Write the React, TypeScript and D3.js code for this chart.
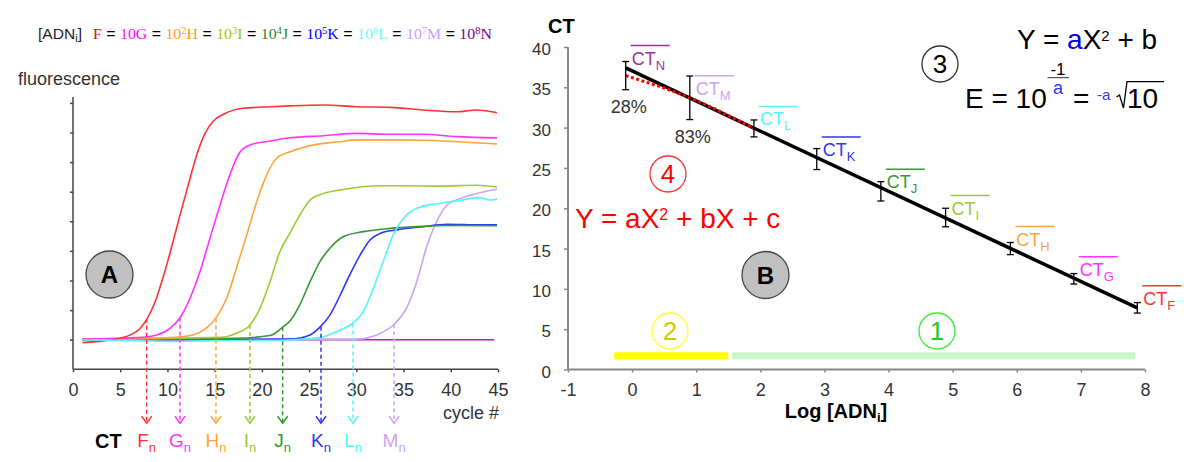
import React, { useRef, useEffect } from 'react';
import * as d3 from 'd3';

const SANS = '"Liberation Sans", Arial, sans-serif';
const SERIF = '"Liberation Serif", "Times New Roman", serif';

// series F..N, F is the most concentrated
const seriesIds = ['F', 'G', 'H', 'I', 'J', 'K', 'L', 'M', 'N'];
const seriesColors = ['#ff3333', '#ff33ff', '#ffa33a', '#99cc33', '#339933', '#3333ff', '#55f5f5', '#cca3f5', '#993399'];
const headerColors = ['#ff0000', '#ff00ff', '#ff9922', '#99cc00', '#1f8a1f', '#0000ff', '#66ffff', '#cc99ff', '#800080'];

// amplification curves [cycle, fluorescence]
const curveF = [[1, 0.9], [3.2, 0.96], [5, 1.05], [6.2, 1.18], [7.1, 1.38], [7.87, 1.72], [8.7, 2.28], [9.56, 3.13], [10.45, 4.14], [11.33, 5.21], [12.2, 6.22], [13.1, 7.24], [13.98, 7.97], [14.86, 8.39], [15.9, 8.61], [18, 8.82], [20.9, 8.87], [23, 8.9], [26.5, 8.93], [30, 8.87], [33.6, 8.85], [37.1, 8.76], [40.6, 8.7], [42.7, 8.76], [44.9, 8.67]];
const curveG = [[1, 1.02], [6.74, 1.07], [8.86, 1.16], [10.27, 1.38], [11.33, 1.74], [12.39, 2.4], [13.45, 3.3], [14.5, 4.43], [15.57, 5.55], [16.6, 6.56], [17.7, 7.35], [18.74, 7.58], [20.86, 7.71], [23, 7.82], [26.5, 7.89], [30, 7.97], [33.6, 7.94], [37.1, 7.94], [40.6, 7.86], [44.9, 7.82]];
const curveH = [[1, 1.02], [10.27, 1.07], [12.39, 1.14], [14.15, 1.4], [15.1, 1.72], [16.27, 2.4], [17.3, 3.41], [18.4, 4.54], [19.45, 5.66], [20.5, 6.56], [21.56, 7.13], [23, 7.35], [25.8, 7.6], [28.3, 7.69], [30, 7.75], [33.6, 7.75], [37.1, 7.74], [40.6, 7.69], [44.9, 7.61]];
const curveI = [[1, 1.02], [15.57, 1.08], [17.3, 1.22], [18.74, 1.5], [19.8, 2.06], [20.86, 2.96], [21.9, 3.97], [23, 4.62], [24, 5.2], [25.1, 5.72], [26.15, 5.9], [28.3, 6.06], [30, 6.14], [32.2, 6.2], [35.3, 6.2], [38.9, 6.19], [42.7, 6.22], [44.9, 6.16]];
const curveJ = [[1, 1.0], [17.3, 1.05], [20.86, 1.14], [22.27, 1.44], [23, 1.64], [24, 2.17], [25.1, 2.96], [26.15, 3.64], [27.2, 4.09], [28.6, 4.48], [30.75, 4.65], [33.6, 4.76], [36.4, 4.82], [40, 4.86], [44.9, 4.85]];
const curveK = [[1, 1.0], [23, 1.02], [25.1, 1.16], [26.2, 1.44], [27.2, 1.83], [28.3, 2.51], [29.3, 3.19], [30.4, 3.86], [31.45, 4.37], [32.5, 4.59], [34.3, 4.71], [37.1, 4.82], [39.6, 4.9], [43.1, 4.88], [44.9, 4.88]];
const curveL = [[1, 0.99], [6.8, 0.97], [10.5, 0.94], [15, 0.97], [22, 0.98], [24.5, 1.02], [26.5, 1.1], [28.3, 1.33], [29.6, 1.55], [30.75, 1.95], [31.8, 2.74], [32.85, 3.64], [33.9, 4.54], [35, 5.1], [36.4, 5.44], [38.9, 5.61], [40.6, 5.69], [43.1, 5.8], [44.1, 5.72], [44.9, 5.75]];
const curveM = [[1, 1.02], [30, 1.02], [32.15, 1.16], [34, 1.52], [35.3, 2.06], [36.4, 2.96], [37.4, 4.09], [38.5, 4.99], [39.6, 5.55], [40.6, 5.72], [42.4, 5.91], [44.9, 6.08]];
const curveN = [[1, 1.0], [44.6, 1.0]];
const curves = [curveF, curveG, curveH, curveI, curveJ, curveK, curveL, curveM, curveN];
const drawOrder = [8, 7, 5, 4, 3, 2, 1, 0, 6];

// Ct read on the curves (arrows), F..M
const ctCycles = [7.8, 11.33, 15.14, 18.74, 22.2, 26.26, 29.65, 34.0];
const ctThreshold = [1.71, 1.74, 1.72, 1.5, 1.42, 1.44, 1.55, 1.52];

const cycleTicks = [0, 5, 10, 15, 20, 25, 30, 35, 40, 45];
const fluorTicks = [1, 2, 3, 4, 5, 6, 7, 8, 9];

// standard curve, F..N
const logConc = [7.88, 6.89, 5.9, 4.89, 3.88, 2.88, 1.9, 0.9, -0.1];
const ctMean = [7.65, 11.25, 15.0, 18.85, 22.1, 26.1, 29.9, 33.7, 36.45];
const ctErr = [0.65, 0.65, 0.75, 1.15, 1.2, 1.3, 1.05, 2.7, 1.75];
const efficiencyLabels = ['83%', '28%']; // M, N
const fitSlope = -3.73;
const fitIntercept = 37.03;
const logTicks = [-1, 0, 1, 2, 3, 4, 5, 6, 7, 8];
const ctTicks = [0, 5, 10, 15, 20, 25, 30, 35, 40];
const zoneQuad = [-0.28, 1.5];
const zoneLinear = [1.56, 7.85];
const zoneCt = 1.7;

const xCycle = d3.scaleLinear().domain([0, 45]).range([73, 498]);
const yFluor = d3.scaleLinear().domain([0, 9]).range([369.3, 102.9]);
const xLog = d3.scaleLinear().domain([-1, 8]).range([568, 1145]);
const yCt = d3.scaleLinear().domain([0, 40]).range([369.5, 47]);

const Circled = ({ cx, cy, r, label, stroke, fill, color, size, bold }: any) => (
    <g>
        <circle cx={cx} cy={cy} r={r} fill={fill || 'none'} stroke={stroke} strokeWidth={1.3} />
        <text x={cx} y={cy + size * 0.36} textAnchor="middle" fontSize={size} fill={color}
            fontWeight={bold ? 'bold' : 'normal'} fontFamily={SANS}>{label}</text>
    </g>
);

const App = () => {
    const axLeftX = useRef<SVGGElement | null>(null);
    const axLeftY = useRef<SVGGElement | null>(null);
    const axRightX = useRef<SVGGElement | null>(null);
    const axRightY = useRef<SVGGElement | null>(null);

    useEffect(() => {
        const style = (g: any, color: string, size: number) => {
            g.select('.domain').remove();
            g.attr('font-family', SANS).attr('font-size', size);
            g.selectAll('line').attr('stroke', color).attr('stroke-width', 1.5);
            g.selectAll('text').attr('fill', '#333');
        };
        d3.select(axLeftX.current!)
            .call(d3.axisBottom(xCycle).tickValues(cycleTicks).tickSize(3).tickPadding(11).tickSizeOuter(0))
            .call(g => style(g, '#444', 18));
        d3.select(axLeftY.current!)
            .call(d3.axisLeft(yFluor).tickValues(fluorTicks).tickSize(3).tickFormat(() => '').tickSizeOuter(0))
            .call(g => style(g, '#444', 18));
        d3.select(axRightX.current!)
            .call(d3.axisBottom(xLog).tickValues(logTicks).tickSize(3).tickPadding(11).tickSizeOuter(0)
                .tickFormat(d => String(d)))
            .call(g => style(g, '#888', 18));
        d3.select(axRightY.current!)
            .call(d3.axisLeft(yCt).tickValues(ctTicks).tickSize(4).tickPadding(13).tickSizeOuter(0))
            .call(g => style(g, '#888', 17))
            .selectAll('text').attr('dy', '0.45em');
    }, []);

    const ampLine = d3.line<number[]>()
        .x(d => xCycle(d[0]))
        .y(d => yFluor(d[1]))
        .curve(d3.curveMonotoneX);

    const fitX = [logConc[8], logConc[0]];
    const quadPts = [8, 7, 6].map(i => [logConc[i], ctMean[i]]);
    const quadLine = d3.line<number[]>()
        .x(d => xLog(d[0]))
        .y(d => yCt(d[1]))
        .curve(d3.curveNatural);

    const arrowBottom = yFluor(0) + 54;

    return (
        <svg width={1200} height={462} style={{ position: 'absolute', left: 0, top: 0, background: '#fff' }}
            fontFamily={SANS}>
            {/* ---------- panel A ---------- */}
            <text x={38} y={38.5} fontSize={14} textLength={44} lengthAdjust="spacingAndGlyphs" fill="#222">
                [ADN<tspan fontSize={10} dy={3}>i</tspan><tspan dy={-3}>]</tspan>
            </text>
            <text x={93} y={38.5} fontSize={15} fontFamily={SERIF} textLength={399} lengthAdjust="spacingAndGlyphs">
                {seriesIds.map((id, i) => (
                    <React.Fragment key={id}>
                        {i > 0 && <tspan fill="#000" fontFamily={SANS}>{' = '}</tspan>}
                        {i > 0 && <tspan fill={headerColors[i]}>10</tspan>}
                        {i > 1 && <tspan fill={headerColors[i]} fontSize={10} dy={-5}>{i}</tspan>}
                        <tspan fill={headerColors[i]} dy={i > 1 ? 5 : 0}>{id}</tspan>
                    </React.Fragment>
                ))}
            </text>

            <text x={18} y={85} fontSize={18} fill="#333">fluorescence</text>

            <line x1={73} x2={73} y1={97} y2={yFluor(0)} stroke="#444" strokeWidth={1.5} />
            <line x1={xCycle(0)} x2={xCycle(45)} y1={yFluor(0)} y2={yFluor(0)} stroke="#444" strokeWidth={1.5} />
            <g ref={axLeftX} transform={`translate(0,${yFluor(0)})`} />
            <g ref={axLeftY} transform="translate(73,0)" />

            {drawOrder.map(i => (
                <path key={seriesIds[i]} d={ampLine(curves[i] as number[][]) || ''} fill="none"
                    stroke={seriesColors[i]} strokeWidth={1.6} />
            ))}

            {ctCycles.map((c, i) => {
                const x = xCycle(c);
                return (
                    <g key={'arr' + i} stroke={seriesColors[i]} strokeWidth={1.5} fill="none">
                        <line x1={x} x2={x} y1={yFluor(ctThreshold[i])} y2={arrowBottom} strokeDasharray="4,3" />
                        <path d={`M${x - 5},${arrowBottom - 7}L${x},${arrowBottom}L${x + 5},${arrowBottom - 7}`} />
                    </g>
                );
            })}

            <text x={443} y={419} fontSize={18} fill="#333">cycle #</text>
            <text x={95} y={448} fontSize={20} fontWeight="bold">CT</text>
            {ctCycles.map((c, i) => (
                <text key={'ct' + i} x={xCycle(c)} y={447} textAnchor="middle" fontSize={19} fill={seriesColors[i]}>
                    {seriesIds[i]}<tspan fontSize={13} dy={5}>n</tspan>
                </text>
            ))}

            <Circled cx={109.5} cy={274.5} r={23.5} label="A" stroke="#444" fill="#c0c0c0" color="#000" size={24} bold />

            {/* ---------- panel B ---------- */}
            <text x={548} y={33} fontSize={20} fontWeight="bold">CT</text>
            <line x1={568} x2={568} y1={yCt(40)} y2={yCt(0)} stroke="#888" strokeWidth={2} />
            <line x1={xLog(-1)} x2={xLog(8)} y1={yCt(0)} y2={yCt(0)} stroke="#888" strokeWidth={2} />
            <g ref={axRightX} transform={`translate(0,${yCt(0)})`} />
            <g ref={axRightY} transform="translate(568,0)" />
            <text x={836} y={418} textAnchor="middle" fontSize={20} fontWeight="bold">
                Log [ADN<tspan fontSize={13} dy={4}>i</tspan><tspan dy={-4}>]</tspan>
            </text>

            <line x1={xLog(zoneQuad[0])} x2={xLog(zoneQuad[1])} y1={yCt(zoneCt)} y2={yCt(zoneCt)}
                stroke="#ffff00" strokeWidth={7} />
            <line x1={xLog(zoneLinear[0])} x2={xLog(zoneLinear[1])} y1={yCt(zoneCt)} y2={yCt(zoneCt)}
                stroke="#c8f8c8" strokeWidth={7} />

            <line x1={xLog(fitX[0])} x2={xLog(fitX[1])}
                y1={yCt(fitIntercept + fitSlope * fitX[0])} y2={yCt(fitIntercept + fitSlope * fitX[1])}
                stroke="#000" strokeWidth={3.5} />
            <path d={quadLine(quadPts) || ''} fill="none" stroke="#ff0000" strokeWidth={3} strokeDasharray="3,2.5" />

            {logConc.map((lx, i) => {
                const x = xLog(lx);
                const top = yCt(ctMean[i] + ctErr[i]);
                const bot = yCt(ctMean[i] - ctErr[i]);
                return (
                    <g key={'eb' + i} stroke="#000" strokeWidth={1.3}>
                        <line x1={x} x2={x} y1={top} y2={bot} />
                        <line x1={x - 3.5} x2={x + 3.5} y1={top} y2={top} />
                        <line x1={x - 3.5} x2={x + 3.5} y1={bot} y2={bot} />
                    </g>
                );
            })}

            {logConc.map((lx, i) => {
                const x = xLog(lx) + 6;
                const base = yCt(ctMean[i]) - (i === 8 ? 11 : 3);
                return (
                    <g key={'lab' + i}>
                        <line x1={x - 1} x2={x + 38} y1={base - 19} y2={base - 19} stroke={seriesColors[i]} strokeWidth={1.5} />
                        <text x={x} y={base} fontSize={18} fill={seriesColors[i]}>
                            CT<tspan fontSize={13} dy={5}>{seriesIds[i]}</tspan>
                        </text>
                    </g>
                );
            })}

            {efficiencyLabels.map((t, k) => {
                const i = 7 + k;
                return (
                    <text key={t} x={xLog(logConc[i]) + 3} y={yCt(ctMean[i] - ctErr[i]) + 23.5} textAnchor="middle"
                        fontSize={18} fill="#333">{t}</text>
                );
            })}

            {/* annotations */}
            <text x={1017} y={49} fontSize={28}>
                Y = <tspan fill="#0000ff">a</tspan>X<tspan fontSize={15} dy={-8}>2</tspan><tspan dy={8}> + b</tspan>
            </text>
            <Circled cx={940} cy={64} r={18} label="3" stroke="#333" color="#000" size={26} />
            <text x={965} y={108.3} fontSize={28}>E = 10</text>
            <text x={1058} y={75} textAnchor="middle" fontSize={17}>-1</text>
            <line x1={1047.5} x2={1069} y1={77.7} y2={77.7} stroke="#333" strokeWidth={1} />
            <text x={1058} y={94} textAnchor="middle" fontSize={18} fill="#3333ff">a</text>
            <text x={1073} y={108.3} fontSize={28}>=</text>
            <text x={1097} y={100} fontSize={15} fill="#3333ff">-a</text>
            <path d="M1116.5,97L1119.5,95L1123.5,108L1127,81.7L1164,81.7" fill="none" stroke="#000" strokeWidth={1.3} />
            <text x={1127} y={108.3} fontSize={28}>10</text>

            <Circled cx={668} cy={174} r={18} label="4" stroke="#ff3333" color="#ff0000" size={26} />
            <text x={575} y={228.3} fontSize={28} fill="#ff0000">
                Y = aX<tspan fontSize={16} dy={-8}>2</tspan><tspan dy={8}> + bX + c</tspan>
            </text>
            <Circled cx={765.5} cy={275} r={23.5} label="B" stroke="#444" fill="#c0c0c0" color="#000" size={24} bold />
            <Circled cx={670} cy={331} r={18} label="2" stroke="#ffff33" color="#cccc00" size={26} />
            <Circled cx={937} cy={331} r={18} label="1" stroke="#33ee33" color="#22cc22" size={26} />
        </svg>
    );
};

export default App;
